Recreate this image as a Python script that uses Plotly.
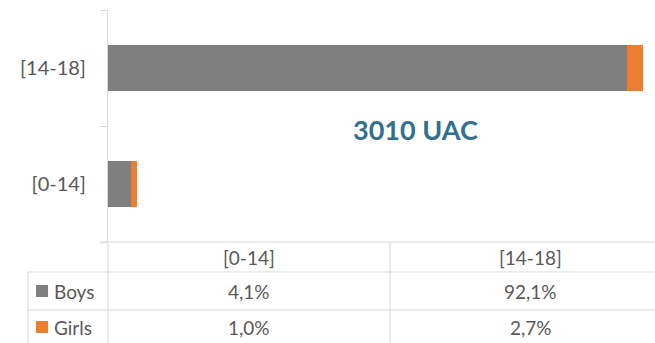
import plotly.graph_objects as go

categories = ['[0-14]', '[14-18]']
series_names = ['Boys', 'Girls']
boys = [4.1, 92.1]
girls = [1.0, 2.7]
title_text = '3010 UAC'

colors = {'Boys': '#7f7f7f', 'Girls': '#ed7d31'}
text_color = '#595959'
line_color = '#d9d9d9'
font_family = 'Lato, Carlito, Calibri, sans-serif'

W, H = 655, 343
ML, MT, MB = 108, 10, 101
plot_w = W - ML
plot_h = H - MT - MB
x_max = 97.0


def px_x(px):
    return (px - ML) / plot_w


def px_y(py):
    return (H - MB - py) / plot_h


fig = go.Figure()
values = {'Boys': boys, 'Girls': girls}
for name in series_names:
    fig.add_trace(go.Bar(
        y=categories, x=values[name], name=name, orientation='h',
        marker=dict(color=colors[name], line=dict(width=0)),
        hoverinfo='skip', showlegend=False,
    ))

shapes = []
annotations = []

# table lines
table_top, header_bot, boys_bot, bottom = 242, 272, 310, 343
right = px_x(W + 40)
shapes.append(dict(type='line', xref='paper', yref='paper', x0=px_x(101), x1=right,
                   y0=px_y(table_top), y1=px_y(table_top), line=dict(color=line_color, width=1)))
for yy in (header_bot, boys_bot):
    shapes.append(dict(type='line', xref='paper', yref='paper', x0=px_x(28), x1=right,
                       y0=px_y(yy), y1=px_y(yy), line=dict(color=line_color, width=1)))
shapes.append(dict(type='line', xref='paper', yref='paper', x0=0, x1=0,
                   y0=px_y(table_top), y1=px_y(bottom), line=dict(color=line_color, width=1)))
shapes.append(dict(type='line', xref='paper', yref='paper', x0=px_x(28), x1=px_x(28),
                   y0=px_y(header_bot), y1=px_y(bottom), line=dict(color=line_color, width=1)))
col_width = 50
for i in range(1, len(categories) + 1):
    shapes.append(dict(type='line', xref='x', yref='paper', x0=i * col_width, x1=i * col_width,
                       y0=px_y(table_top), y1=px_y(bottom), line=dict(color=line_color, width=1)))

row_centers = {'header': 257, 'Boys': 291, 'Girls': 327}
tfont = dict(family=font_family, size=19, color=text_color)

for i, cat in enumerate(categories):
    cx = col_width * (i + 0.5)
    annotations.append(dict(xref='x', yref='paper', x=cx, y=px_y(row_centers['header']),
                            text=cat, showarrow=False, font=tfont, xanchor='center', yanchor='middle'))
    for name in series_names:
        v = values[name][i]
        txt = f'{v:.1f}%'.replace('.', ',')
        annotations.append(dict(xref='x', yref='paper', x=cx, y=px_y(row_centers[name]),
                                text=txt, showarrow=False, font=tfont, xanchor='center', yanchor='middle'))

for name in series_names:
    cy = row_centers[name]
    shapes.append(dict(type='rect', xref='paper', yref='paper', x0=px_x(36), x1=px_x(48),
                       y0=px_y(cy + 6), y1=px_y(cy - 6), fillcolor=colors[name],
                       line=dict(width=0)))
    annotations.append(dict(xref='paper', yref='paper', x=px_x(52), y=px_y(cy),
                            text=name, showarrow=False, font=tfont, xanchor='left', yanchor='middle'))

annotations.append(dict(xref='paper', yref='paper', x=px_x(415), y=px_y(129), text=f'<b>{title_text}</b>',
                        showarrow=False, xanchor='center', yanchor='middle',
                        font=dict(family=font_family, size=27, color='#31708f')))

fig.update_layout(
    width=W, height=H,
    margin=dict(l=ML, r=0, t=MT, b=MB, pad=0),
    barmode='stack', bargap=0.6,
    plot_bgcolor='white', paper_bgcolor='white',
    xaxis=dict(range=[0, x_max], visible=False, fixedrange=True),
    yaxis=dict(type='category', categoryorder='array', categoryarray=categories,
               showline=True, linecolor=line_color, linewidth=1,
               ticks='outside', tickson='boundaries', ticklen=7, tickcolor=line_color,
               showgrid=False, zeroline=False, ticklabelstandoff=17,
               tickfont=dict(family=font_family, size=20, color=text_color)),
    shapes=shapes, annotations=annotations,
    font=dict(family=font_family),
)

fig.write_html('out.html', config={'displayModeBar': False},
               post_script="document.body.style.margin='0';document.body.style.overflow='hidden';")
